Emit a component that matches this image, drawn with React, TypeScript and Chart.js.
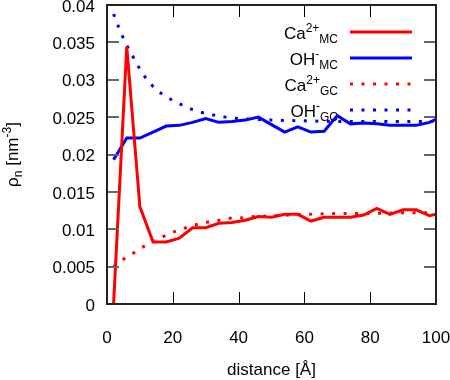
import { useEffect, useRef } from 'react';
import { Chart, registerables } from 'chart.js';

Chart.register(...registerables);

// Simulation (MC) sampling positions, distance in Å
const mcX = [2, 6, 10, 14, 18, 22, 26, 30, 34, 38, 42, 46, 50, 54, 58, 62, 66, 70, 74, 78, 82, 86, 90, 94, 98, 100];
const caMC = [0.0, 0.0344, 0.013, 0.0083, 0.0083, 0.0088, 0.0102, 0.0102, 0.0108, 0.0109, 0.0112, 0.0117, 0.0116, 0.012, 0.012, 0.0111, 0.0116, 0.0116, 0.0116, 0.0119, 0.0128, 0.012, 0.0126, 0.0126, 0.0118, 0.012];
const ohMC = [0.0193, 0.0222, 0.0222, 0.023, 0.0238, 0.0239, 0.0243, 0.0248, 0.0243, 0.0244, 0.0246, 0.025, 0.024, 0.023, 0.0237, 0.023, 0.0231, 0.0252, 0.0241, 0.0242, 0.0241, 0.0239, 0.0239, 0.0239, 0.0243, 0.0247];

// Gouy-Chapman (GC) curve positions
const gcX = [2, 4, 6, 8, 10, 12, 14, 16, 18, 20, 22, 24, 26, 28, 30, 32, 34, 36, 38, 40, 45, 50, 60, 70, 80, 90, 100];
const caGC = [0.005, 0.0057, 0.0063, 0.0068, 0.0074, 0.0079, 0.0084, 0.0088, 0.0092, 0.0096, 0.0099, 0.0102, 0.0105, 0.0107, 0.0109, 0.0111, 0.0112, 0.0114, 0.0115, 0.0115, 0.0117, 0.0118, 0.012, 0.0121, 0.0121, 0.0122, 0.0122];
const ohGC = [0.0388, 0.0365, 0.0346, 0.033, 0.0314, 0.0301, 0.0291, 0.0283, 0.0278, 0.0272, 0.0268, 0.0264, 0.026, 0.0257, 0.0255, 0.0253, 0.0252, 0.025, 0.0249, 0.0248, 0.0247, 0.0246, 0.0245, 0.0244, 0.0244, 0.0244, 0.0244];

const xRange = [0, 100];
const xStep = 20;
const yRange = [0, 0.04];
const yStep = 0.005;

// legend: [main, superscript, subscript]
const legendMain = ['Ca', 'OH', 'Ca', 'OH'];
const legendSup = ['2+', '-', '2+', '-'];
const legendSub = ['MC', 'MC', 'GC', 'GC'];
const xTitle = 'distance [Å]';

const RED = '#ff0000';
const BLUE = '#0000ff';
const FONT = '"Liberation Sans", Arial, sans-serif';
const BIG = 17;
const SMALL = 12;

type Seg = { t: string; kind: 'n' | 'sup' | 'sub' };

function segWidth(ctx: CanvasRenderingContext2D, segs: Seg[]) {
  let w = 0;
  for (const s of segs) {
    ctx.font = `${s.kind === 'n' ? BIG : SMALL}px ${FONT}`;
    w += ctx.measureText(s.t).width;
  }
  return w;
}

function drawSegs(ctx: CanvasRenderingContext2D, segs: Seg[], x: number, y: number) {
  let cx = x;
  ctx.textAlign = 'left';
  ctx.textBaseline = 'alphabetic';
  for (const s of segs) {
    ctx.font = `${s.kind === 'n' ? BIG : SMALL}px ${FONT}`;
    const dy = s.kind === 'sup' ? -7 : s.kind === 'sub' ? 4 : 0;
    ctx.fillText(s.t, cx, y + dy);
    cx += ctx.measureText(s.t).width;
  }
}

const decorPlugin = {
  id: 'decor',
  afterDraw(chart: any) {
    const ctx: CanvasRenderingContext2D = chart.ctx;
    const { left, right, top, bottom } = chart.chartArea;
    const xs = chart.scales.x;
    const ys = chart.scales.y;
    ctx.save();
    // inward ticks
    ctx.strokeStyle = '#000';
    ctx.lineWidth = 1;
    for (const t of xs.ticks) {
      const px = Math.round(xs.getPixelForValue(t.value)) + 0.5;
      ctx.beginPath();
      ctx.moveTo(px, bottom);
      ctx.lineTo(px, bottom - 12);
      ctx.moveTo(px, top);
      ctx.lineTo(px, top + 12);
      ctx.stroke();
    }
    ctx.strokeStyle = '#666';
    ctx.lineWidth = 2;
    for (const t of ys.ticks) {
      const py = Math.round(ys.getPixelForValue(t.value));
      ctx.beginPath();
      ctx.moveTo(left, py);
      ctx.lineTo(left + 12, py);
      ctx.moveTo(right, py);
      ctx.lineTo(right - 12, py);
      ctx.stroke();
    }
    // frame
    ctx.strokeStyle = '#222';
    ctx.lineWidth = 2;
    ctx.strokeRect(left, top, right - left, bottom - top);

    // legend
    const colors = [RED, BLUE, RED, BLUE];
    const dashed = [false, false, true, true];
    for (let i = 0; i < legendMain.length; i++) {
      const base = 39 + i * 26;
      const segs: Seg[] = [
        { t: legendMain[i], kind: 'n' },
        { t: legendSup[i], kind: 'sup' },
        { t: legendSub[i], kind: 'sub' },
      ];
      const w = segWidth(ctx, segs);
      ctx.fillStyle = '#000';
      drawSegs(ctx, segs, 338 - w, base);
      ctx.strokeStyle = colors[i];
      ctx.lineWidth = 3;
      ctx.setLineDash(dashed[i] ? [3, 8.5] : []);
      ctx.beginPath();
      ctx.moveTo(350, base - 7);
      ctx.lineTo(412, base - 7);
      ctx.stroke();
      ctx.setLineDash([]);
    }

    // y title (rotated rich text)
    const ySegs: Seg[] = [
      { t: 'ρ', kind: 'n' },
      { t: 'n', kind: 'sub' },
      { t: ' [nm', kind: 'n' },
      { t: '-3', kind: 'sup' },
      { t: ']', kind: 'n' },
    ];
    const yw = segWidth(ctx, ySegs);
    ctx.translate(18, (top + bottom) / 2);
    ctx.rotate(-Math.PI / 2);
    ctx.fillStyle = '#000';
    drawSegs(ctx, ySegs, -yw / 2, 0);
    ctx.restore();
  },
};

export default function App() {
  const ref = useRef<HTMLCanvasElement>(null);
  useEffect(() => {
    if (!ref.current) return;
    const pts = (xs: number[], ys: number[]) => xs.map((x, i) => ({ x, y: ys[i] }));
    const chart = new Chart(ref.current, {
      type: 'line',
      data: {
        datasets: [
          { data: pts(mcX, caMC), borderColor: RED, borderWidth: 3, pointRadius: 0, fill: false },
          { data: pts(mcX, ohMC), borderColor: BLUE, borderWidth: 3, pointRadius: 0, fill: false },
          { data: pts(gcX, caGC), borderColor: RED, borderWidth: 3, borderDash: [3, 8.5], pointRadius: 0, fill: false },
          { data: pts(gcX, ohGC), borderColor: BLUE, borderWidth: 3, borderDash: [3, 8.5], pointRadius: 0, fill: false },
        ],
      },
      options: {
        responsive: false,
        animation: false,
        layout: { padding: { left: 0, right: 14, top: 5, bottom: 0 } },
        plugins: { legend: { display: false }, tooltip: { enabled: false } },
        scales: {
          x: {
            type: 'linear',
            min: xRange[0],
            max: xRange[1],
            grid: { display: false, drawTicks: false },
            border: { display: false },
            ticks: { stepSize: xStep, color: '#000', font: { family: FONT, size: BIG }, padding: 24, maxRotation: 0 },
            title: { display: true, text: xTitle, color: '#000', font: { family: FONT, size: BIG }, padding: { top: 0, bottom: -1 } },
            afterFit: (s: any) => {
              s.height = 76;
              s.paddingLeft = 0;
              s.paddingRight = 0;
            },
          },
          y: {
            type: 'linear',
            min: yRange[0],
            max: yRange[1],
            grid: { display: false, drawTicks: false },
            border: { display: false },
            ticks: {
              stepSize: yStep,
              color: '#000',
              font: { family: FONT, size: BIG },
              padding: 12,
              labelOffset: 2,
              callback: (v: any) => String(+Number(v).toFixed(3)),
            },
            afterFit: (s: any) => {
              s.width = 107;
              s.paddingTop = 0;
              s.paddingBottom = 0;
            },
          },
        },
      },
      plugins: [decorPlugin],
    });
    return () => chart.destroy();
  }, []);
  return (
    <div style={{ position: 'absolute', left: 0, top: 0, width: 450, height: 380, background: '#fff' }}>
      <canvas ref={ref} width={450} height={380} style={{ display: 'block' }} />
    </div>
  );
}
